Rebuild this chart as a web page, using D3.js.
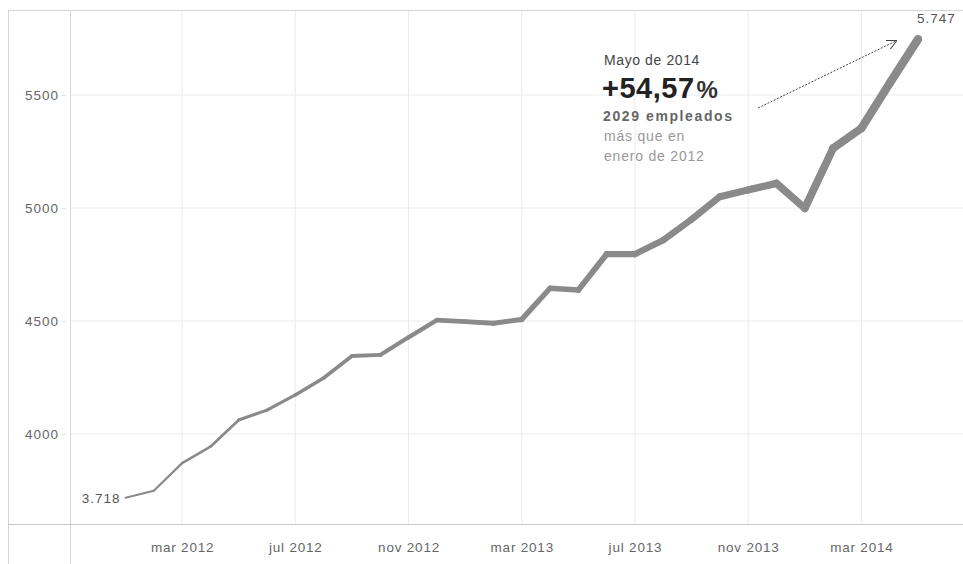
<!DOCTYPE html>
<html>
<head>
<meta charset="utf-8">
<script src="https://cdn.jsdelivr.net/npm/d3@7"></script>
<style>
  html, body { margin: 0; padding: 0; background: #fff; }
  svg { display: block; font-family: Arial, "Liberation Sans", sans-serif; }
</style>
</head>
<body>
<svg id="chart" width="963" height="564"></svg>
<script>
// Monthly employee count, January 2012 – May 2014
const months = [
  "2012-01","2012-02","2012-03","2012-04","2012-05","2012-06","2012-07","2012-08",
  "2012-09","2012-10","2012-11","2012-12","2013-01","2013-02","2013-03","2013-04",
  "2013-05","2013-06","2013-07","2013-08","2013-09","2013-10","2013-11","2013-12",
  "2014-01","2014-02","2014-03","2014-04","2014-05"
];
const empleados = [
  3718, 3749, 3871, 3944, 4062, 4106, 4173, 4248,
  4345, 4350, 4428, 4504, 4497, 4490, 4507, 4645,
  4637, 4796, 4796, 4858, 4950, 5050, 5080, 5109,
  4999, 5264, 5353, 5552, 5747
];
const yTicks = [4000, 4500, 5000, 5500];
const xTickMonths = ["2012-03","2012-07","2012-11","2013-03","2013-07","2013-11","2014-03"];
const xTickLabels = ["mar 2012","jul 2012","nov 2012","mar 2013","jul 2013","nov 2013","mar 2014"];

const svg = d3.select("#chart");
const frame = { left: 8, top: 10, plotLeft: 70, right: 963, axisY: 524, bottom: 564 };
const font = "Arial, 'Liberation Sans', sans-serif";

const x = d3.scaleLinear().domain([0, months.length - 1]).range([125.5, 918]);
const y = d3.scaleLinear().domain([4000, 5500]).range([434, 95]);
const xi = m => months.indexOf(m);

// gridlines
const grid = svg.append("g");
grid.selectAll("line.h").data(yTicks).join("line")
  .attr("x1", frame.plotLeft).attr("x2", frame.right)
  .attr("y1", d => y(d)).attr("y2", d => y(d))
  .attr("stroke", "#ebebeb").attr("stroke-width", 1);
grid.selectAll("line.v").data(xTickMonths).join("line")
  .attr("x1", d => x(xi(d))).attr("x2", d => x(xi(d)))
  .attr("y1", frame.top).attr("y2", frame.axisY)
  .attr("stroke", "#ebebeb").attr("stroke-width", 1);

// frame lines
const fr = svg.append("g").attr("stroke", "#d4d4d4").attr("stroke-width", 1);
fr.append("line").attr("x1", frame.left).attr("x2", frame.right).attr("y1", frame.top + 0.5).attr("y2", frame.top + 0.5);
fr.append("line").attr("x1", frame.left + 0.5).attr("x2", frame.left + 0.5).attr("y1", frame.top).attr("y2", frame.bottom);
fr.append("line").attr("x1", frame.plotLeft + 0.5).attr("x2", frame.plotLeft + 0.5).attr("y1", frame.top).attr("y2", frame.bottom);
fr.append("line").attr("x1", frame.left).attr("x2", frame.right).attr("y1", frame.axisY + 0.5).attr("y2", frame.axisY + 0.5).attr("stroke", "#c8c8c8");

// y axis
const yAxis = d3.axisLeft(y).tickValues(yTicks).tickSize(4).tickPadding(3).tickFormat(d3.format("d"));
const gy = svg.append("g").attr("transform", `translate(${frame.plotLeft - 4},0)`).call(yAxis);
gy.select(".domain").remove();
gy.selectAll(".tick line").attr("stroke", "#e0e0e0");
gy.selectAll(".tick text").attr("fill", "#666").attr("font-size", 13.5)
  .attr("letter-spacing", 1).attr("font-family", font);

// x axis
const xAxis = d3.axisBottom(x).tickValues(xTickMonths.map(xi))
  .tickFormat((d, i) => xTickLabels[i]).tickSize(0).tickPadding(18);
const gx = svg.append("g").attr("transform", `translate(0,${frame.axisY})`).call(xAxis);
gx.select(".domain").remove();
gx.selectAll(".tick text").attr("fill", "#666").attr("font-size", 13.5)
  .attr("letter-spacing", 0.8).attr("font-family", font);

// line: drawn segment by segment with a stroke that thickens over time
const pts = empleados.map((v, i) => [x(i), y(v)]);
const segs = d3.pairs(pts);
const w = d3.scaleLinear().domain([0, segs.length - 1]).range([2, 8.5]);
svg.append("g").selectAll("line").data(segs).join("line")
  .attr("x1", d => d[0][0]).attr("y1", d => d[0][1])
  .attr("x2", d => d[1][0]).attr("y2", d => d[1][1])
  .attr("stroke", "#8a8a8a")
  .attr("stroke-width", (d, i) => w(i))
  .attr("stroke-linecap", "round");

// end labels
const fmt = v => d3.format(",")(v).replace(",", ".");
svg.append("text").attr("x", x(0) - 5).attr("y", y(empleados[0]) + 5)
  .attr("text-anchor", "end").attr("font-size", 13.5).attr("letter-spacing", 1).attr("fill", "#555")
  .text(fmt(empleados[0]));
const last = empleados.length - 1;
svg.append("text").attr("x", x(last) - 1).attr("y", y(empleados[last]) - 16)
  .attr("font-size", 13.5).attr("letter-spacing", 1).attr("fill", "#555")
  .text(fmt(empleados[last]));

// annotation
const ann = svg.append("g");
ann.append("text").attr("x", 604).attr("y", 65).attr("font-size", 14).attr("letter-spacing", 0.6)
  .attr("fill", "#444").text("Mayo de 2014");
const big = ann.append("text").attr("x", 602).attr("y", 98).attr("font-weight", "bold").attr("fill", "#222");
big.append("tspan").attr("font-size", 29).attr("letter-spacing", 0.5).text("+54,57");
big.append("tspan").attr("font-size", 24).attr("dx", 2).attr("fill", "#333").text("%");
ann.append("text").attr("x", 603).attr("y", 121).attr("font-size", 14).attr("letter-spacing", 1.6)
  .attr("font-weight", "bold").attr("fill", "#666").text("2029 empleados");
ann.append("text").attr("x", 604).attr("y", 141).attr("font-size", 14).attr("letter-spacing", 0.8)
  .attr("fill", "#999").text("más que en");
ann.append("text").attr("x", 604).attr("y", 161).attr("font-size", 14).attr("letter-spacing", 0.8)
  .attr("fill", "#999").text("enero de 2012");

// arrow to the last value
svg.append("defs").append("marker")
  .attr("id", "arrow").attr("viewBox", "0 0 10 10").attr("refX", 9).attr("refY", 5)
  .attr("markerWidth", 10).attr("markerHeight", 10).attr("markerUnits", "userSpaceOnUse")
  .attr("orient", "auto")
  .append("path").attr("d", "M0,0 L10,5 L0,10").attr("fill", "none").attr("stroke", "#444").attr("stroke-width", 1);
svg.append("line").attr("x1", 758).attr("y1", 108).attr("x2", 896).attr("y2", 41)
  .attr("stroke", "#444").attr("stroke-width", 1).attr("stroke-dasharray", "2,1.5")
  .attr("marker-end", "url(#arrow)");
</script>
</body>
</html>
